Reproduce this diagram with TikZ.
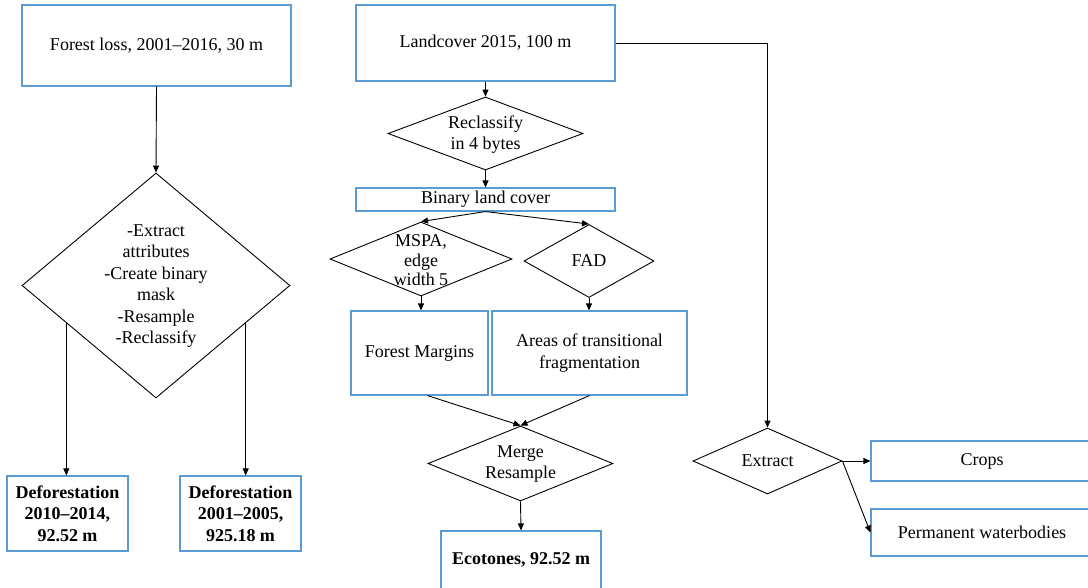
\documentclass[tikz,border=0pt]{standalone}
\usepackage{fontspec}
\setmainfont{Liberation Serif}
\usetikzlibrary{shapes.geometric,arrows.meta,calc}
\definecolor{boxblue}{RGB}{91,155,213}
\tikzset{
  box/.style={draw=boxblue, line width=1.1pt, rectangle, inner sep=0pt,
    font=\fontsize{18}{21.5}\selectfont, align=center},
  dmd/.style={draw=black, line width=0.9pt, diamond, inner sep=0pt},
  txt/.style={font=\fontsize{18}{21.5}\selectfont, align=center, inner sep=0pt},
  conn/.style={draw=black, line width=0.9pt, -{Triangle[width=6pt,length=7pt]}},
  plain/.style={draw=black, line width=0.9pt},
}
\begin{document}
\begin{tikzpicture}[x=1pt,y=-1pt]
\useasboundingbox (0,0) rectangle (1088,587);
\clip (0,0) rectangle (1088,587);

% left column: forest loss
\node[box, minimum width=269pt, minimum height=81pt] (loss) at (156.5,45.5) {Forest loss, 2001--2016, 30 m};
\node[dmd, minimum width=268pt, minimum height=225pt] (prep) at (156,285.5) {};
\node[txt] (preptxt) at (156,286) {-Extract\\attributes\\-Create binary\\mask\\-Resample\\-Reclassify};
\node[box, minimum width=121pt, minimum height=75pt] (defa) at (67.5,513.5) {\bfseries Deforestation\\\bfseries 2010--2014,\\\bfseries 92.52 m};
\node[box, minimum width=121pt, minimum height=75pt] (defb) at (240.5,513.5) {\bfseries Deforestation\\\bfseries 2001--2005,\\\bfseries 925.18 m};

% middle column: land cover
\node[box, minimum width=259pt, minimum height=76pt] (lc) at (485.5,43) {Landcover 2015, 100 m};
\node[dmd, minimum width=195pt, minimum height=73pt] (recl) at (485.5,133.5) {};
\node[txt] (recltxt) at (485.5,134.5) {Reclassify\\in 4 bytes};
\node[box, minimum width=259pt, minimum height=23pt] (bin) at (485.5,199.5) {Binary land cover};
\node[dmd, minimum width=182pt, minimum height=74pt] (mspa) at (421,259) {};
\node[txt, font=\fontsize{18}{19.5}\selectfont] (mspatxt) at (421,260.5) {MSPA,\\edge\\width 5};
\node[dmd, minimum width=130pt, minimum height=73pt] (fad) at (589,261) {};
\node[txt] (fadtxt) at (589,261) {FAD};
\node[box, minimum width=137pt, minimum height=84pt] (fm) at (419.5,353) {Forest Margins};
\node[box, minimum width=195pt, minimum height=84pt] (atf) at (589.5,353) {Areas of transitional\\fragmentation};
\node[dmd, minimum width=185pt, minimum height=75pt] (merge) at (520.5,463.5) {};
\node[txt] (mergetxt) at (520.5,464) {Merge\\Resample};
\node[box, minimum width=160pt, minimum height=58pt] (eco) at (521,560) {\bfseries Ecotones, 92.52 m};

% right column: extraction
\node[dmd, minimum width=149pt, minimum height=66pt] (ext) at (767.5,461) {};
\node[txt] (exttxt) at (767.5,461) {Extract};
\node[box, minimum width=222pt, minimum height=40pt] (crops) at (982,461) {Crops};
\node[box, minimum width=222pt, minimum height=47pt] (water) at (982,532.5) {Permanent waterbodies};

% connectors
\draw[conn] (loss.south) -- (prep.north);
\draw[conn] ($(prep.west)!0.333!(prep.south)$) -- (defa.north -| {$(prep.west)!0.333!(prep.south)$});
\draw[conn] ($(prep.east)!0.333!(prep.south)$) -- (defb.north -| {$(prep.east)!0.333!(prep.south)$});

\draw[conn] (lc.south) -- (recl.north);
\draw[conn] (recl.south) -- (bin.north);
\draw[conn] (bin.south) -- (mspa.north);
\draw[conn] (bin.south) -- (fad.north);
\draw[conn] (mspa.south) -- (fm.north -| mspa.south);
\draw[conn] (fad.south) -- (atf.north -| fad.south);
\draw[conn] ([xshift=8pt]fm.south) -- (merge.north);
\draw[conn] (atf.south) -- (merge.north);
\draw[conn] (merge.south) -- (eco.north);

\draw[conn] (lc.east) -| (ext.north);
\draw[conn] (ext.east) -- (crops.west);
\draw[conn] (ext.east) -- (water.west);
\end{tikzpicture}
\end{document}
